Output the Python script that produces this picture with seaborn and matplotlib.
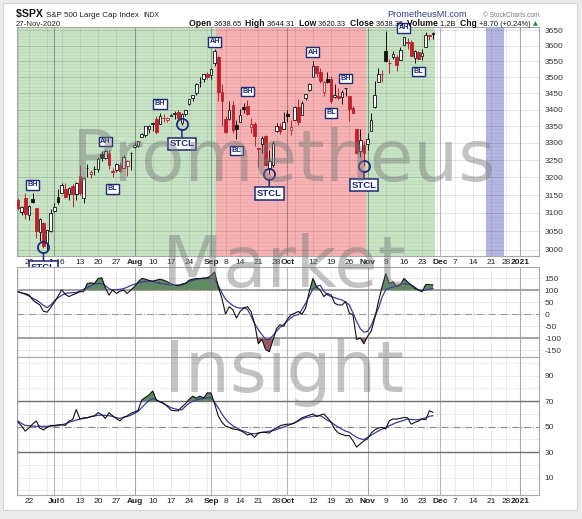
import numpy as np
import pandas as pd
import matplotlib
matplotlib.use("Agg")
import matplotlib.pyplot as plt
import seaborn as sns
from matplotlib.patches import Rectangle
from matplotlib.ticker import NullLocator

W, H = 582, 519

# trading calendar shown on the x axis
START = "2020-06-17"
END = "2021-01-08"
HOLIDAYS = ["2020-07-03", "2020-09-07", "2020-11-26", "2020-12-25", "2021-01-01"]
PREV_CLOSE = 3124.74

opens = [3136.1, 3101.6, 3140.3,
         3094.4, 3138.7, 3114.4, 3046.6, 3073.2,
         3018.6, 3050.2, 3105.9, 3143.6,
         3155.3, 3166.4, 3153.1, 3176.2, 3152.5,
         3205.1, 3141.1, 3225.9, 3208.4, 3224.2,
         3224.3, 3268.5, 3254.9, 3271.6, 3218.6,
         3219.8, 3234.3, 3227.2, 3231.8, 3270.5,
         3288.3, 3289.9, 3317.4, 3323.2, 3340.1,
         3356.0, 3370.3, 3355.5, 3372.9, 3368.7,
         3380.9, 3387.0, 3392.5, 3360.5, 3386.0,
         3418.1, 3436.0, 3450.0, 3485.1, 3494.7,
         3509.7, 3507.4, 3543.8, 3564.7, 3453.6,
         3371.9, 3369.8, 3412.6, 3352.7,
         3363.6, 3407.7, 3411.2, 3346.9, 3357.4,
         3285.6, 3295.8, 3320.1, 3226.1, 3236.7,
         3333.9, 3350.9, 3341.2, 3385.9, 3338.9,
         3367.3, 3408.7, 3384.6, 3434.3, 3459.7,
         3500.0, 3534.0, 3515.5, 3453.7, 3493.5,
         3493.7, 3439.4, 3439.9, 3438.5, 3464.9,
         3441.4, 3403.2, 3342.5, 3277.2, 3293.6,
         3296.2, 3336.3, 3406.5, 3485.7, 3508.3,
         3583.0, 3543.3, 3563.2, 3562.7, 3552.6,
         3600.2, 3610.3, 3612.1, 3559.4, 3579.3,
         3566.8, 3594.5, 3635.5, 3638.65]
highs = [3141.2, 3120.0, 3155.5,
         3120.9, 3154.9, 3115.0, 3086.3, 3073.7,
         3053.9, 3111.5, 3128.4, 3165.8,
         3182.6, 3184.2, 3171.8, 3179.8, 3186.8,
         3235.3, 3200.9, 3238.3, 3220.4, 3233.5,
         3258.6, 3277.3, 3279.3, 3279.9, 3227.3,
         3241.4, 3243.7, 3264.7, 3250.9, 3272.0,
         3302.7, 3306.8, 3330.8, 3351.0, 3352.5,
         3363.3, 3381.0, 3387.9, 3387.2, 3378.5,
         3387.6, 3395.1, 3399.5, 3390.8, 3400.0,
         3432.1, 3444.2, 3481.1, 3501.4, 3509.2,
         3514.8, 3528.0, 3588.1, 3564.9, 3479.2,
         3380.0, 3424.8, 3425.6, 3369.0,
         3402.9, 3419.5, 3428.9, 3375.2, 3362.3,
         3285.6, 3320.3, 3323.4, 3278.7, 3306.9,
         3360.7, 3357.9, 3393.6, 3397.2, 3369.1,
         3409.6, 3431.6, 3426.3, 3447.3, 3482.3,
         3549.9, 3534.0, 3527.9, 3489.1, 3515.8,
         3502.4, 3476.9, 3464.9, 3460.5, 3466.5,
         3441.4, 3409.5, 3342.5, 3341.1, 3304.9,
         3330.1, 3389.5, 3486.3, 3529.0, 3521.6,
         3646.0, 3557.2, 3581.2, 3569.0, 3593.7,
         3628.5, 3623.1, 3619.1, 3585.2, 3581.2,
         3589.8, 3642.3, 3635.5, 3644.31]
lows = [3108.0, 3093.5, 3083.1,
        3079.4, 3127.1, 3032.1, 3024.0, 3004.6,
        2999.7, 3047.8, 3101.5, 3124.5,
        3155.3, 3142.9, 3136.5, 3115.7, 3136.2,
        3149.4, 3127.7, 3200.8, 3198.6, 3205.7,
        3215.2, 3247.8, 3253.1, 3222.7, 3200.1,
        3214.3, 3216.2, 3227.2, 3204.1, 3220.3,
        3284.5, 3286.9, 3317.4, 3318.1, 3328.7,
        3335.4, 3326.4, 3355.5, 3363.4, 3361.6,
        3379.2, 3370.2, 3369.7, 3354.7, 3379.3,
        3413.1, 3425.8, 3444.2, 3468.4, 3484.3,
        3493.3, 3494.6, 3535.2, 3427.4, 3349.6,
        3329.3, 3366.8, 3329.3, 3310.5,
        3363.6, 3389.2, 3384.5, 3328.8, 3292.4,
        3229.1, 3271.0, 3232.6, 3209.5, 3228.4,
        3332.9, 3327.5, 3340.5, 3361.4, 3323.7,
        3367.3, 3354.5, 3384.6, 3428.2, 3458.1,
        3499.6, 3500.9, 3480.6, 3440.9, 3480.5,
        3419.9, 3435.7, 3433.1, 3415.3, 3440.5,
        3364.9, 3388.7, 3268.9, 3259.8, 3233.9,
        3279.7, 3336.3, 3405.2, 3485.7, 3484.3,
        3547.5, 3511.9, 3557.0, 3518.6, 3552.6,
        3600.2, 3588.7, 3567.3, 3543.8, 3556.9,
        3552.8, 3594.5, 3617.8, 3620.33]
closes = [3113.5, 3115.3, 3097.7,
          3117.9, 3131.3, 3050.3, 3083.8, 3009.1,
          3053.2, 3100.3, 3115.9, 3130.0,
          3179.7, 3145.3, 3169.9, 3152.1, 3185.0,
          3155.2, 3197.5, 3226.6, 3215.6, 3224.7,
          3251.8, 3257.3, 3276.0, 3235.7, 3215.6,
          3239.4, 3218.4, 3258.4, 3246.2, 3271.1,
          3294.6, 3306.5, 3327.8, 3349.2, 3351.3,
          3360.5, 3333.7, 3380.4, 3373.4, 3372.9,
          3382.0, 3389.8, 3374.9, 3385.5, 3397.2,
          3431.3, 3443.6, 3478.7, 3484.6, 3508.0,
          3500.3, 3526.7, 3580.8, 3455.1, 3427.0,
          3331.8, 3399.0, 3339.2, 3341.0,
          3383.5, 3401.2, 3385.5, 3357.0, 3319.5,
          3281.1, 3315.6, 3236.9, 3246.6, 3298.5,
          3351.6, 3335.5, 3363.0, 3380.8, 3348.4,
          3408.6, 3361.0, 3419.4, 3446.8, 3477.1,
          3534.2, 3511.9, 3488.7, 3483.3, 3483.8,
          3426.9, 3443.1, 3435.6, 3453.5, 3465.4,
          3401.0, 3390.7, 3271.0, 3310.1, 3270.0,
          3310.2, 3369.2, 3443.4, 3510.5, 3509.4,
          3550.5, 3545.5, 3572.7, 3537.0, 3585.2,
          3626.9, 3609.5, 3567.8, 3582.0, 3557.5,
          3577.6, 3635.4, 3629.7, 3638.35]

# CCI panel, black line and its blue moving average
cci = [93, 88, 85, 80, 60, 48, 38, 12, 8, 28,
       50, 75, 101, 82, 73, 80, 86, 93, 93, 127,
       130, 127, 148, 151, 110, 79, 100, 86, 95, 100,
       86, 100, 114, 134, 148, 145, 140, 137, 141, 145,
       141, 134, 127, 120, 118, 125, 127, 141, 145, 148,
       148, 150, 151, 160, 175, 114, 66, 0, 31, 18,
       -16, 11, 25, 31, 11, -40, -123, -105, -147, -156,
       -110, -60, -44, -51, -20, -3, 4, 11, 0, 25,
       93, 148, 114, 100, 73, 86, 79, 45, 38, 38,
       52, 4, -3, -105, -99, -123, -92, -71, -16, 52,
       114, 168, 127, 134, 114, 121, 148, 134, 121, 107,
       100, 93, 123, 123, 121]
cci_ma = [93, 88, 82, 75, 66, 59, 48, 36, 27, 38,
          55, 68, 78, 86, 88, 89, 90, 96, 103, 110,
          118, 125, 127, 127, 118, 106, 100, 102, 103, 106,
          112, 119, 124, 129, 134, 136, 137, 136, 132, 128,
          126, 123, 121, 121, 121, 121, 128, 135, 140, 144,
          147, 148, 148, 148, 146, 118, 88, 62, 48, 36,
          28, 25, 26, 20, -8, -40, -64, -85, -105, -105,
          -90, -70, -55, -42, -28, -15, -5, -3, 20, 45,
          75, 105, 115, 120, 95, 80, 73, 68, 63, 59,
          50, 38, 5, -30, -60, -75, -72, -48, -10, 25,
          70, 102, 108, 113, 118, 124, 127, 125, 121, 112,
          100, 98, 100, 104, 107]

# RSI panel, black line and its blue moving average
rsi = [53.5, 50.5, 46.5, 49, 52, 54.5, 49, 47.5, 49.5, 51,
       51, 51.5, 51.5, 51, 54.5, 55.5, 63.5, 56, 57, 57,
       58, 58.5, 61, 59.5, 56.5, 61, 58.5, 56.5, 54.5, 57.5,
       58.5, 60.5, 61.5, 63, 71, 73, 75, 78, 71, 69.5,
       68.5, 66, 63, 62.5, 62.5, 65.5, 68, 71.5, 74, 72.5,
       74, 72.5, 76.5, 76.5, 68, 58.5, 53.5, 50.5, 49.5, 48.2,
       47.8, 47, 45.6, 43.5, 44.3, 41.7, 45, 45.6, 45.5, 45,
       47.5, 49, 50.8, 51.5, 52, 52, 53, 55, 57, 58,
       59, 60, 58, 59, 60, 57, 53.5, 48, 45, 44,
       43, 43, 39, 34, 36.5, 39, 40.5, 45, 47.5, 49,
       49.5, 48.2, 54.7, 56, 56, 56.5, 57.3, 57, 52, 53.4,
       54.5, 56, 55.5, 62.5, 61.2]
rsi_ma = [54.5, 52.5, 51, 50.8, 50.5, 50.3, 50.3, 50.3, 50.3, 50.4,
          50.6, 50.8, 51.5, 52.3, 53.4, 54.3, 55.2, 56, 56.5, 57,
          57.8, 58.4, 59, 59, 58.8, 58.6, 58, 57, 56.5, 57.3,
          58, 59, 60.5, 62, 65, 68, 70.5, 72, 71, 69.5,
          68, 66.5, 65, 64, 63.5, 63.2, 66, 68.5, 70, 71,
          71.7, 72.2, 72.6, 72.9, 69, 65, 60, 56, 53, 50.8,
          49.2, 47.5, 46.5, 45.5, 44.5, 44.5, 45, 45.5, 46, 46.5,
          46.9, 47.8, 48.8, 49.8, 50.8, 52, 53.2, 54.5, 56, 57,
          57.5, 58.2, 58.6, 58.6, 57, 55, 53.5, 51.5, 49.6, 48,
          46.5, 45.6, 43.5, 41.7, 40.5, 39.9, 41.5, 43.3, 45, 46.7,
          48, 49.5, 50.8, 52, 53.3, 54.2, 55, 56, 55.7, 55.5,
          55.5, 56.2, 57, 58.2, 58.6]

PRICE_TICKS = [3000, 3050, 3100, 3150, 3200, 3250, 3300, 3350, 3400,
               3450, 3500, 3550, 3600, 3650]
CCI_TICKS = [150, 100, 50, 0, -50, -100, -150]
RSI_TICKS = [90, 70, 50, 30, 10]

TICK_DATES = ["2020-06-22", "2020-07-01", "2020-07-06", "2020-07-13", "2020-07-20",
              "2020-07-27", "2020-08-03", "2020-08-10", "2020-08-17", "2020-08-24",
              "2020-09-01", "2020-09-08", "2020-09-14", "2020-09-21", "2020-09-28",
              "2020-10-01", "2020-10-12", "2020-10-19", "2020-10-26", "2020-11-02",
              "2020-11-09", "2020-11-16", "2020-11-23", "2020-12-01", "2020-12-07",
              "2020-12-14", "2020-12-21", "2020-12-28", "2021-01-04"]
TICK_TEXT = ["22", "Jul", "6", "13", "20", "27", "Aug", "10", "17", "24",
             "Sep", "8", "14", "21", "28", "Oct", "12", "19", "26", "Nov",
             "9", "16", "23", "Dec", "7", "14", "21", "28", "2021"]

# shaded regimes on the price panel
GREEN_SPANS = [("2020-06-17", "2020-09-02"), ("2020-11-02", "2020-11-27")]
RED_SPANS = [("2020-09-03", "2020-10-30")]
BLUE_SPANS = [("2020-12-18", "2020-12-24")]

# labelled boxes drawn on the price panel
TAG_TEXT = ["BH", "AH", "BL", "BH", "AH", "BH", "BL", "AH", "BH", "BL", "AH", "BL"]
TAG_DATE = ["2020-06-23", "2020-07-22", "2020-07-24", "2020-08-12", "2020-09-02",
            "2020-09-16", "2020-09-11", "2020-10-12", "2020-10-23", "2020-10-19",
            "2020-11-16", "2020-11-20"]
TAG_PRICE = [3179, 3304, 3167, 3417, 3612, 3455, 3278, 3579, 3495, 3390, 3657, 3517]
STCL_DATE = ["2020-06-26", "2020-08-20", "2020-09-24", "2020-10-30"]
STCL_LOW = [3006, 3357, 3211, 3234]
STCL_BOX = [2952, 3297, 3155, 3178]

NAVY = "#1c2a78"
RED = "#c0202c"
GREEN_BG = "#c6e4c4"
RED_BG = "#f7b2b3"
BLUE_BG = "#b5b5e2"

sns.set_theme(style="white")
plt.rcParams["font.family"] = ["Liberation Sans", "DejaVu Sans"]

cal = pd.bdate_range(START, END)
cal = cal[~cal.isin(pd.to_datetime(HOLIDAYS))]
pos_of = {d: i for i, d in enumerate(cal)}


def P(d):
    return pos_of[pd.Timestamp(d)]


o = np.array(opens)
h = np.array(highs)
l = np.array(lows)
c = np.array(closes)
n = len(c)
x = np.arange(n)
XMIN, XMAX = -0.36, 143.1

fig = plt.figure(figsize=(W / 100, H / 100), dpi=100, facecolor="#ececec")
fig.patches.append(Rectangle((3 / W, 1 - 510 / H), 574 / W, 507 / H, transform=fig.transFigure,
                             facecolor="white", edgecolor="#d4d4d4", lw=0.8, zorder=-10))


def fx(px):
    return px / W


def fy(py):
    return 1 - py / H


ax1 = fig.add_axes([fx(16.7), fy(256), fx(539) - fx(16.7), fy(26.7) - fy(256)])
ax2 = fig.add_axes([fx(16.7), fy(357), fx(539) - fx(16.7), fy(266.7) - fy(357)])
ax3 = fig.add_axes([fx(16.7), fy(495), fx(539) - fx(16.7), fy(357) - fy(495)])

# week / month grid lines from the calendar
wk = cal.to_series().dt.isocalendar().week.values
week_starts = [i for i in range(len(cal)) if i == 0 or wk[i] != wk[i - 1]]
month_starts = [i for i in range(1, len(cal)) if cal[i].month != cal[i - 1].month]

for ax in (ax1, ax2, ax3):
    ax.set_xlim(XMIN, XMAX)
    ax.set_facecolor("white")
    for s in ax.spines.values():
        s.set_color("#a8a8a8")
        s.set_linewidth(0.8)
    for i in week_starts:
        ax.axvline(i, color="#000000", alpha=0.09, lw=0.6, zorder=1)
    for i in month_starts:
        ax.axvline(i, color="#000000", alpha=0.28, lw=0.8, zorder=1)
    ax.yaxis.tick_right()
    ax.tick_params(axis="y", length=0, pad=4, labelsize=6, labelcolor="#333333")
    ax.tick_params(axis="x", length=0, pad=2.5, labelsize=6, labelcolor="#222222")

# ---- price panel
ax1.set_yscale("log")
ax1.set_ylim(2983, 3661)
for a, b in GREEN_SPANS:
    ax1.axvspan(P(a) - 0.5, P(b) + 0.5, color=GREEN_BG, lw=0, zorder=0)
for a, b in RED_SPANS:
    ax1.axvspan(P(a) - 0.5, P(b) + 0.5, color=RED_BG, lw=0, zorder=0)
for a, b in BLUE_SPANS:
    ax1.axvspan(P(a) - 0.5, P(b) + 0.5, color=BLUE_BG, lw=0, zorder=0)
for a, b in GREEN_SPANS + RED_SPANS + BLUE_SPANS:
    ax1.hlines(np.arange(2990, 3661, 10), P(a) - 0.5, P(b) + 0.5,
               color="black", alpha=0.05, lw=0.5, zorder=0.5)
for v in PRICE_TICKS:
    ax1.axhline(v, color="black", alpha=0.12, lw=0.6, zorder=1)

prev = np.r_[PREV_CLOSE, c[:-1]]
col = np.where(c >= prev, "#111111", RED)
face = np.where(c > o, "white", col)
ax1.vlines(x, l, h, colors=col, lw=0.7, zorder=3)
body_lo = np.minimum(o, c)
body_h = np.maximum(np.abs(c - o), 0.6)
ax1.bar(x, body_h, bottom=body_lo, width=0.72, color=face, edgecolor=col, linewidth=0.6, zorder=4)

ax1.set_yticks(PRICE_TICKS)
ax1.set_yticklabels([str(v) for v in PRICE_TICKS])
ax1.yaxis.set_minor_locator(NullLocator())
ax1.set_ylabel("")

tick_pos = [P(d) for d in TICK_DATES]
for ax in (ax1, ax3):
    ax.set_xticks(tick_pos)
    ax.set_xticklabels(TICK_TEXT)
    for t in ax.get_xticklabels():
        if not t.get_text().isdigit() or t.get_text() == "2021":
            t.set_fontweight("bold")
ax2.set_xticks([])


def tag(ax, xx, yy, s, fs=5.2):
    ax.text(xx, yy, s, ha="center", va="center", fontsize=fs, fontweight="bold", color=NAVY,
            bbox=dict(boxstyle="square,pad=0.18", fc="white", ec=NAVY, lw=1.0),
            zorder=9, clip_on=False)


for s, d, p in zip(TAG_TEXT, TAG_DATE, TAG_PRICE):
    tag(ax1, P(d), p, s)

for d, lo, bx in zip(STCL_DATE, STCL_LOW, STCL_BOX):
    ax1.plot([P(d)], [lo], marker="o", ms=8, mfc="none", mec=NAVY, mew=1.3, zorder=9, clip_on=False)
    ax1.annotate("STCL", xy=(P(d), lo), xytext=(P(d), bx), ha="center", va="center",
                 fontsize=6.8, fontweight="bold", color=NAVY, zorder=9, annotation_clip=False,
                 bbox=dict(boxstyle="square,pad=0.2", fc="white", ec=NAVY, lw=1.1),
                 arrowprops=dict(arrowstyle="-", color=NAVY, lw=1.1, shrinkA=0, shrinkB=4))

# ---- CCI panel
ax2.set_ylim(-178, 197)
for v in (150, 50, -50, -150):
    ax2.axhline(v, color="black", alpha=0.1, lw=0.6, zorder=1)
ax2.axhline(100, color="#9a9a9a", lw=1.3, zorder=1)
ax2.axhline(-100, color="#9a9a9a", lw=1.3, zorder=1)
ax2.axhline(0, color="#9a9a9a", lw=0.8, ls="-.", zorder=1)
cc = np.array(cci, dtype=float)
ax2.fill_between(x, cc, 100, where=cc > 100, interpolate=True, color="#5f8a62", lw=0, zorder=2)
ax2.fill_between(x, cc, -100, where=cc < -100, interpolate=True, color="#9b5a63", lw=0, zorder=2)
sns.lineplot(x=x, y=cci_ma, ax=ax2, color="#3b3b9c", linewidth=0.9, zorder=3)
sns.lineplot(x=x, y=cci, ax=ax2, color="#111111", linewidth=0.8, zorder=4)
ax2.set_yticks(CCI_TICKS)
ax2.set_yticklabels([str(v) for v in CCI_TICKS])
ax2.set_ylabel("")

# ---- RSI panel
ax3.set_ylim(-3.6, 104.7)
for v in (100, 90, 80, 60, 40, 20, 10, 0):
    ax3.axhline(v, color="black", alpha=0.08, lw=0.6, zorder=1)
ax3.axhline(70, color="#707070", lw=1.0, zorder=1)
ax3.axhline(30, color="#707070", lw=1.0, zorder=1)
ax3.axhline(50, color="#8a8a8a", lw=0.8, ls="-.", zorder=1)
rr = np.array(rsi, dtype=float)
ax3.fill_between(x, rr, 70, where=rr > 70, interpolate=True, color="#5f8a62", lw=0, zorder=2)
ax3.fill_between(x, rr, 30, where=rr < 30, interpolate=True, color="#9b5a63", lw=0, zorder=2)
sns.lineplot(x=x, y=rsi_ma, ax=ax3, color="#3b3b9c", linewidth=0.9, zorder=3)
sns.lineplot(x=x, y=rsi, ax=ax3, color="#111111", linewidth=0.8, zorder=4)
ax3.set_yticks(RSI_TICKS)
ax3.set_yticklabels([str(v) for v in RSI_TICKS])
ax3.set_ylabel("")

# ---- header
renderer = fig.canvas.get_renderer()


def run_text(x0, ybase, pieces):
    cur = fx(x0)
    for s, kw in pieces:
        t = fig.text(cur, fy(ybase), s, va="baseline", **kw)
        cur = t.get_window_extent(renderer=renderer).x1 / W
    return cur


run_text(16, 17, [("$SPX ", dict(fontsize=7.6, fontweight="bold", color="#111111")),
                  ("S&P 500 Large Cap Index  ", dict(fontsize=5.8, color="#222222")),
                  ("INDX", dict(fontsize=4.9, color="#222222"))])
fig.text(fx(16), fy(25.5), "27-Nov-2020", fontsize=5.6, color="#222222", va="baseline")
fig.text(fx(387), fy(17), "PrometheusMI.com", fontsize=6.6, color="#2e3f8f", va="baseline")
fig.text(fx(483), fy(17), "\u00a9 StockCharts.com", fontsize=4.7, color="#777777", va="baseline")

bold = dict(fontsize=6.2, fontweight="bold", color="#111111")
norm = dict(fontsize=5.4, color="#111111")
end = run_text(189, 25.5, [("Open ", bold), ("3638.65  ", norm), ("High ", bold), ("3644.31  ", norm),
                           ("Low ", bold), ("3620.33  ", norm), ("Close ", bold), ("3638.35  ", norm),
                           ("Volume ", bold), ("1.2B  ", norm), ("Chg ", bold),
                           ("+8.70 (+0.24%) ", norm)])
fig.text(end, fy(25.5), "\u25b2", fontsize=4.5, color="#2a8a2a", va="baseline",
         family=["DejaVu Sans"])

# ---- watermark
for word, base in (("Prometheus", 181), ("Market", 287), ("Insight", 392)):
    fig.text(fx(284), fy(base), word, fontsize=51, color="#7a7a7a", alpha=0.45,
             ha="center", va="baseline", family=["DejaVu Sans"], zorder=20)

fig.savefig("out.png", dpi=100, facecolor=fig.get_facecolor())
